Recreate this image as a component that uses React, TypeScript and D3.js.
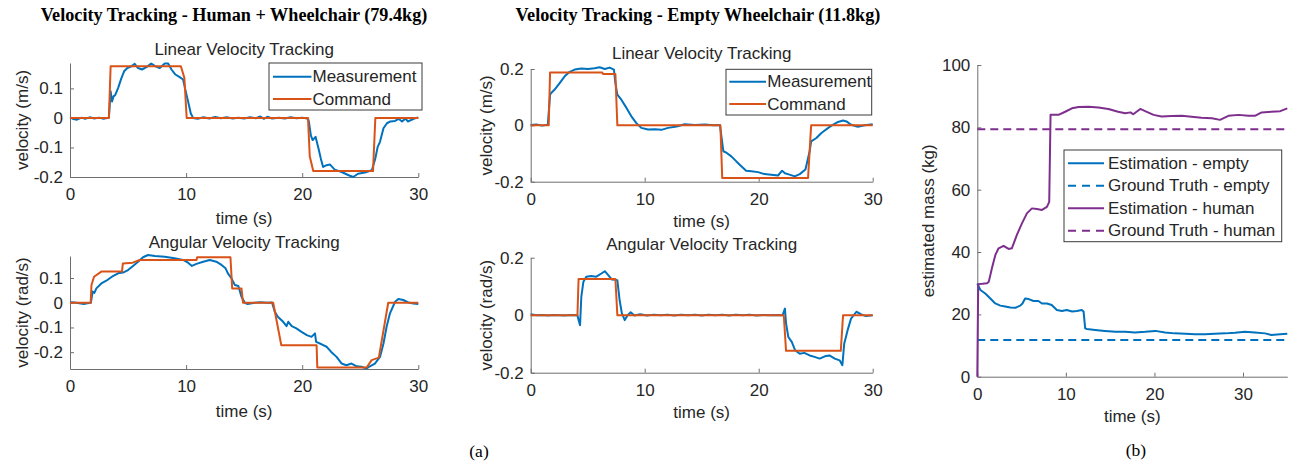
import React, { useEffect, useRef } from 'react';
import * as d3 from 'd3';

type Pt = [number, number];

// ---- data: [time (s), value] ----
const humanLinearCommand: Pt[] = [
  [0, 0], [3.35, 0], [3.5, 0.175], [9.55, 0.175], [9.85, 0.136], [10.05, 0], [20.5, 0],
  [20.65, -0.13], [20.95, -0.18], [26.1, -0.18], [26.3, 0], [30, 0],
];
const humanLinearMeasured: Pt[] = [
  [0, 0.002], [0.3, -0.004], [0.6, -0.006], [1.0, 0.001], [1.3, -0.003], [1.7, 0.002], [2.1, -0.002],
  [2.5, 0.001], [2.9, -0.003], [3.35, 0.001], [3.5, 0.09], [3.62, 0.056], [3.75, 0.073], [3.9, 0.078],
  [4.14, 0.101], [4.43, 0.135], [4.66, 0.158], [4.94, 0.169], [5.29, 0.175], [5.57, 0.183], [5.86, 0.169],
  [6.2, 0.164], [6.58, 0.172], [7.0, 0.184], [7.36, 0.175], [7.73, 0.169], [8.16, 0.184], [8.45, 0.184],
  [8.74, 0.164], [9.08, 0.147], [9.45, 0.138], [9.74, 0.13], [9.94, 0.095], [10.17, 0.056], [10.4, 0.016],
  [10.6, 0.0], [11.0, -0.003], [11.5, 0.002], [12.0, -0.002], [12.5, 0.003], [13.0, -0.001], [13.5, 0.002],
  [14.0, -0.002], [14.5, 0.001], [15.0, -0.002], [15.5, 0.002], [16.0, -0.001], [16.4, 0.005], [16.7, -0.003],
  [17.0, 0.004], [17.4, -0.002], [18.0, 0.001], [18.5, -0.002], [19.0, 0.002], [19.5, -0.001], [20.0, 0.001],
  [20.5, -0.003], [20.57, -0.012], [20.75, -0.06], [20.9, -0.075], [21.15, -0.064], [21.4, -0.103],
  [21.6, -0.137], [21.8, -0.166], [22.1, -0.16], [22.4, -0.158], [22.8, -0.175], [23.4, -0.183],
  [24.0, -0.194], [24.4, -0.2], [24.8, -0.189], [25.4, -0.185], [26.0, -0.177], [26.3, -0.137],
  [26.5, -0.098], [26.7, -0.081], [27.0, -0.035], [27.3, -0.018], [27.6, -0.012], [28.0, -0.01],
  [28.3, -0.003], [28.6, -0.012], [28.9, -0.002], [29.1, -0.012], [29.6, -0.003], [30, 0.002],
];

const humanAngularCommand: Pt[] = [
  [0, 0], [1.78, 0], [1.85, 0.072], [2.07, 0.105], [2.7, 0.126], [4.48, 0.126], [4.55, 0.159], [5.4, 0.162],
  [6.0, 0.173], [10.9, 0.173], [10.95, 0.184], [13.82, 0.184], [13.97, 0.058], [14.77, 0.058], [14.9, 0],
  [17.5, 0], [18.2, -0.172], [21.24, -0.172], [21.3, -0.262], [25.55, -0.262], [25.98, -0.232],
  [26.6, -0.222], [27.41, 0], [30, 0],
];
const humanAngularMeasured: Pt[] = [
  [0, 0.002], [0.4, 0.001], [0.8, -0.002], [1.2, -0.005], [1.5, -0.002], [1.8, 0.0], [1.95, 0.045],
  [2.1, 0.04], [2.27, 0.058], [2.7, 0.078], [3.13, 0.089], [3.7, 0.108], [4.14, 0.119], [4.57, 0.122],
  [5.0, 0.132], [5.43, 0.149], [5.86, 0.166], [6.29, 0.184], [6.72, 0.193], [7.3, 0.189], [8.16, 0.186],
  [9.0, 0.18], [9.74, 0.173], [10.17, 0.162], [10.5, 0.149], [10.89, 0.157], [11.47, 0.166], [12.04, 0.173],
  [12.6, 0.166], [13.05, 0.153], [13.4, 0.139], [13.6, 0.119], [13.9, 0.099], [14.2, 0.072], [14.5, 0.068],
  [14.77, 0.024], [15.06, 0.0], [15.3, -0.005], [15.9, 0.0], [16.4, 0.002], [17.0, 0.0], [17.4, 0.001],
  [17.64, -0.036], [17.9, -0.057], [18.36, -0.077], [18.65, -0.095], [18.8, -0.077], [19.1, -0.095],
  [19.5, -0.104], [19.94, -0.118], [20.4, -0.131], [20.8, -0.138], [21.1, -0.124], [21.2, -0.158],
  [21.67, -0.168], [22.1, -0.178], [22.5, -0.199], [22.96, -0.219], [23.4, -0.246], [23.8, -0.253],
  [24.25, -0.246], [24.7, -0.257], [25.1, -0.259], [25.55, -0.266], [25.83, -0.257], [26.26, -0.246],
  [26.7, -0.219], [27.0, -0.165], [27.27, -0.097], [27.56, -0.043], [28.0, 0.004], [28.28, 0.015],
  [28.7, 0.011], [29.14, 0.001], [29.57, -0.003], [30, -0.005],
];

const emptyLinearCommand: Pt[] = [
  [0, 0], [1.58, 0], [1.7, 0.188], [6.26, 0.188], [6.35, 0.182], [7.43, 0.182], [7.6, 0], [16.64, 0],
  [16.8, -0.187], [24.33, -0.187], [24.6, 0], [30, 0],
];
const emptyLinearMeasured: Pt[] = [
  [0, 0.001], [0.5, 0.003], [1.0, -0.001], [1.5, 0.002], [1.7, 0.109], [1.8, 0.115], [2.1, 0.127],
  [2.54, 0.15], [2.98, 0.174], [3.42, 0.19], [3.86, 0.198], [4.44, 0.202], [5.03, 0.2], [5.6, 0.203],
  [6.05, 0.206], [6.5, 0.2], [6.93, 0.205], [7.3, 0.198], [7.43, 0.15], [7.6, 0.109], [7.95, 0.091],
  [8.4, 0.062], [8.83, 0.032], [9.27, 0.008], [9.7, -0.009], [10.3, -0.015], [10.9, -0.014], [11.46, -0.016],
  [12.05, -0.009], [12.8, -0.004], [13.5, 0.004], [14.4, 0.001], [15.3, 0.003], [16.0, 0.0], [16.6, 0.001],
  [16.9, -0.092], [17.2, -0.098], [17.6, -0.11], [18.04, -0.128], [18.5, -0.146], [18.9, -0.161],
  [19.36, -0.163], [19.94, -0.166], [20.5, -0.173], [21.1, -0.175], [21.7, -0.178], [22.05, -0.161],
  [22.3, -0.17], [22.7, -0.175], [23.16, -0.181], [23.6, -0.173], [24.1, -0.157], [24.47, -0.092],
  [24.6, -0.057], [25.06, -0.045], [25.5, -0.027], [26.1, -0.009], [26.5, 0.002], [26.96, 0.012],
  [27.4, 0.017], [27.7, 0.014], [28.1, 0.002], [28.7, -0.005], [29.3, 0.0], [30, 0.004],
];

const emptyAngularCommand: Pt[] = [
  [0, 0], [4.1, 0], [4.2, 0.126], [7.43, 0.126], [7.6, 0], [22.2, 0], [22.4, -0.124], [27.2, -0.124],
  [27.4, 0], [30, 0],
];
const emptyAngularMeasured: Pt[] = [
  [0, 0.003], [0.5, 0.0], [1.0, 0.001], [1.5, -0.001], [2.0, 0.001], [2.5, 0.0], [3.0, -0.001], [3.5, 0.001],
  [4.1, 0.0], [4.2, -0.017], [4.33, -0.035], [4.44, 0.064], [4.62, 0.116], [4.88, 0.134], [5.3, 0.136],
  [5.76, 0.134], [6.2, 0.145], [6.5, 0.153], [6.78, 0.14], [7.13, 0.124], [7.6, 0.122], [7.8, 0.052],
  [8.0, 0.006], [8.25, -0.017], [8.5, 0.0], [8.77, 0.01], [9.1, -0.001], [9.6, 0.003], [10.2, -0.001],
  [10.8, 0.002], [11.4, 0.0], [12.0, 0.002], [12.6, -0.001], [13.2, 0.002], [13.8, 0.0], [14.4, 0.002],
  [15.0, -0.001], [15.6, 0.002], [16.2, 0.0], [16.8, 0.002], [17.4, -0.001], [18.0, 0.002], [18.6, 0.0],
  [19.2, 0.002], [19.8, -0.001], [20.4, 0.001], [21.0, 0.0], [21.6, 0.001], [22.1, 0.0], [22.3, 0.023],
  [22.4, -0.029], [22.6, -0.076], [22.9, -0.093], [23.2, -0.122], [23.6, -0.134], [24.0, -0.131],
  [24.47, -0.14], [24.9, -0.145], [25.35, -0.151], [25.8, -0.143], [26.2, -0.14], [26.67, -0.151],
  [27.1, -0.157], [27.34, -0.174], [27.5, -0.099], [27.8, -0.052], [28.1, -0.012], [28.57, 0.012],
  [29.0, 0.003], [29.4, -0.003], [30, 0.0],
];

const massEstimateHuman: Pt[] = [
  [0, 0], [0.1, 29.7], [0.6, 29.8], [1.1, 30], [1.3, 30.5], [1.65, 34.8], [2.03, 39], [2.4, 41.2], [2.97, 42],
  [3.53, 41], [3.9, 41.2], [4.47, 45.5], [5.04, 49.2], [5.6, 52.4], [6.17, 54], [6.73, 53.8], [7.3, 53.5],
  [7.86, 54.5], [8.12, 56.1], [8.27, 84], [8.42, 84], [9.17, 84], [9.92, 85], [10.68, 86.1], [11.43, 86.5],
  [12.56, 86.6], [13.68, 86.4], [14.8, 85.9], [15.9, 85], [16.7, 84.5], [17.3, 84.8], [17.6, 84.2],
  [18.4, 85.9], [18.95, 85.2], [19.9, 84], [20.8, 83.5], [21.95, 83.6], [23.1, 83.7], [24.2, 83.4],
  [25.3, 83.1], [26.5, 82.9], [27.4, 82.4], [28.35, 83.7], [29.5, 84], [30.6, 83.7], [31.35, 83.7],
  [32.1, 84.8], [33.2, 85], [34.2, 85.2], [35, 86.1],
];
const massEstimateEmpty: Pt[] = [
  [0, 29.9], [0.35, 27.8], [0.9, 26.7], [1.47, 25.1], [2.03, 23.5], [2.6, 22.8], [3.16, 22.5], [3.72, 22.2],
  [4.29, 22.1], [4.85, 22.8], [5.1, 23.5], [5.4, 25.1], [5.8, 24.9], [6.35, 24.3], [6.9, 24.3], [7.3, 23.5],
  [7.86, 23.5], [8.4, 23], [8.98, 21.4], [9.55, 21.1], [10.1, 21.4], [10.7, 20.9], [11.24, 21.1],
  [11.8, 21.4], [12.0, 20.9], [12.18, 15.5], [12.37, 15.3], [13.3, 15.0], [14.4, 14.7], [15.6, 14.4],
  [16.7, 14.4], [17.8, 14.2], [18.95, 14.4], [20.1, 14.7], [21.2, 14.2], [22.3, 13.9], [23.5, 13.8],
  [24.6, 13.6], [25.7, 13.6], [26.8, 13.8], [28.0, 13.9], [29.1, 14.1], [30.2, 14.4], [31.35, 14.2],
  [32.5, 13.9], [33.2, 13.4], [34.2, 13.6], [35, 13.8],
];
const groundTruthHuman: Pt[] = [[0, 79.4], [35, 79.4]];
const groundTruthEmpty: Pt[] = [[0, 11.8], [35, 11.8]];

const velTicksX = [0, 10, 20, 30];
const massTicksX = [0, 10, 20, 30];
const humanLinTicksY = [-0.2, -0.1, 0, 0.1];
const humanAngTicksY = [-0.2, -0.1, 0, 0.1];
const emptyTicksY = [-0.2, 0, 0.2];
const massTicksY = [0, 20, 40, 60, 80, 100];

const BLUE = '#0072BD';
const ORANGE = '#D95319';
const PURPLE = '#7E2F8E';
const AXIS = '#6f6f6f';
const TXT = '#262626';
const SANS = "'Liberation Sans', Arial, Helvetica, sans-serif";
const SERIF = "'Liberation Serif', 'Times New Roman', serif";

interface Series { data: Pt[]; color: string; dash?: string; label: string }
interface Legend { x: number; y: number; w: number; h: number; row0: number; rowH: number; s0: number; s1: number; tx: number }
interface Panel {
  xRange: [number, number]; xDomain: [number, number]; xTicks: number[];
  yRange: [number, number]; yDomain: [number, number]; yTicks: number[];
  title?: string; titleY?: number; ylabel: string; ylabelX: number; xlabelY: number;
  series: Series[]; legend?: Legend;
}

const measCmd = (m: Pt[], c: Pt[]): Series[] => [
  { data: m, color: BLUE, label: 'Measurement' },
  { data: c, color: ORANGE, label: 'Command' },
];

const panels: Panel[] = [
  {
    xRange: [70, 418.3], xDomain: [0, 30], xTicks: velTicksX,
    yRange: [177, 63], yDomain: [-0.2, 0.186], yTicks: humanLinTicksY,
    title: 'Linear Velocity Tracking', titleY: 49, ylabel: 'velocity (m/s)', ylabelX: 22, xlabelY: 218,
    series: measCmd(humanLinearMeasured, humanLinearCommand),
    legend: { x: 269, y: 63, w: 153, h: 47, row0: 13.7, rowH: 22.3, s0: 4, s1: 42.5, tx: 43.5 },
  },
  {
    xRange: [70, 418.3], xDomain: [0, 30], xTicks: velTicksX,
    yRange: [369, 256], yDomain: [-0.268, 0.189], yTicks: humanAngTicksY,
    title: 'Angular Velocity Tracking', titleY: 242.5, ylabel: 'velocity (rad/s)', ylabelX: 22, xlabelY: 411.5,
    series: measCmd(humanAngularMeasured, humanAngularCommand),
  },
  {
    xRange: [530.7, 872.7], xDomain: [0, 30], xTicks: velTicksX,
    yRange: [181.7, 69], yDomain: [-0.2, 0.2], yTicks: emptyTicksY,
    title: 'Linear Velocity Tracking', titleY: 53, ylabel: 'velocity (m/s)', ylabelX: 486.5, xlabelY: 221,
    series: measCmd(emptyLinearMeasured, emptyLinearCommand),
    legend: { x: 726, y: 69.3, w: 145.7, h: 45.7, row0: 12.4, rowH: 22.3, s0: 3.3, s1: 40, tx: 41.3 },
  },
  {
    xRange: [530.7, 872.7], xDomain: [0, 30], xTicks: velTicksX,
    yRange: [372.7, 257.7], yDomain: [-0.2, 0.2], yTicks: emptyTicksY,
    title: 'Angular Velocity Tracking', titleY: 244, ylabel: 'velocity (rad/s)', ylabelX: 486.5, xlabelY: 412.5,
    series: measCmd(emptyAngularMeasured, emptyAngularCommand),
  },
  {
    xRange: [977.3, 1287.3], xDomain: [0, 35], xTicks: massTicksX,
    yRange: [376.7, 65], yDomain: [0, 100], yTicks: massTicksY,
    ylabel: 'estimated mass (kg)', ylabelX: 928, xlabelY: 416.5,
    series: [
      { data: massEstimateEmpty, color: BLUE, label: 'Estimation - empty' },
      { data: groundTruthEmpty, color: BLUE, dash: '8,5', label: 'Ground Truth - empty' },
      { data: massEstimateHuman, color: PURPLE, label: 'Estimation - human' },
      { data: groundTruthHuman, color: PURPLE, dash: '8,5', label: 'Ground Truth - human' },
    ],
    legend: { x: 1064, y: 150, w: 217.7, h: 91.7, row0: 13.3, rowH: 22.5, s0: 4, s1: 40, tx: 44 },
  },
];

function drawPanel(svg: d3.Selection<SVGSVGElement, unknown, null, undefined>, p: Panel) {
  const x = d3.scaleLinear().domain(p.xDomain).range(p.xRange);
  const y = d3.scaleLinear().domain(p.yDomain).range(p.yRange);
  const g = svg.append('g');

  const styleAxis = (a: d3.Selection<SVGGElement, unknown, null, undefined>) => {
    a.attr('font-size', 17).attr('font-family', SANS);
    a.select('.domain').attr('stroke', AXIS);
    a.selectAll('.tick line').attr('stroke', AXIS);
    a.selectAll('.tick text').attr('fill', TXT);
  };

  const xa = g.append('g')
    .attr('transform', `translate(0,${p.yRange[0]})`)
    .call(d3.axisBottom(x).tickValues(p.xTicks).tickSizeInner(-4).tickSizeOuter(0).tickPadding(11)
      .tickFormat((d) => String(+d)));
  styleAxis(xa);

  const ya = g.append('g')
    .attr('transform', `translate(${p.xRange[0]},0)`)
    .call(d3.axisLeft(y).tickValues(p.yTicks).tickSizeInner(-4).tickSizeOuter(0).tickPadding(7)
      .tickFormat((d) => String(+d)));
  styleAxis(ya);

  const line = d3.line<Pt>().x((d) => x(d[0])).y((d) => y(d[1]));
  p.series.forEach((s) => {
    g.append('path')
      .datum(s.data)
      .attr('d', line)
      .attr('fill', 'none')
      .attr('stroke', s.color)
      .attr('stroke-width', 2)
      .attr('stroke-dasharray', s.dash || null)
      .attr('stroke-linejoin', 'round');
  });

  const xMid = (p.xRange[0] + p.xRange[1]) / 2;
  const yMid = (p.yRange[0] + p.yRange[1]) / 2;
  const txt = (sel: d3.Selection<SVGTextElement, unknown, null, undefined>) =>
    sel.attr('font-family', SANS).attr('font-size', 17).attr('fill', TXT)
      .attr('text-anchor', 'middle').attr('dominant-baseline', 'central');

  if (p.title) g.append('text').attr('x', xMid).attr('y', p.titleY!).call(txt).text(p.title);
  g.append('text').attr('x', xMid).attr('y', p.xlabelY).call(txt).text('time (s)');
  g.append('text')
    .attr('transform', `translate(${p.ylabelX},${yMid}) rotate(-90)`)
    .call(txt).text(p.ylabel);

  if (p.legend) {
    const L = p.legend;
    const lg = g.append('g');
    lg.append('rect')
      .attr('x', L.x).attr('y', L.y).attr('width', L.w).attr('height', L.h)
      .attr('fill', '#fff').attr('stroke', '#3a3a3a').attr('stroke-width', 1);
    p.series.forEach((s, i) => {
      const ry = L.y + L.row0 + i * L.rowH;
      lg.append('line')
        .attr('x1', L.x + L.s0).attr('x2', L.x + L.s1).attr('y1', ry).attr('y2', ry)
        .attr('stroke', s.color).attr('stroke-width', 2)
        .attr('stroke-dasharray', s.dash ? '8,6' : null);
      lg.append('text')
        .attr('x', L.x + L.tx).attr('y', ry)
        .attr('font-family', SANS).attr('font-size', 17).attr('fill', TXT)
        .attr('dominant-baseline', 'central')
        .text(s.label);
    });
  }
}

export default function App() {
  const svgRef = useRef<SVGSVGElement>(null);

  useEffect(() => {
    if (!svgRef.current) return;
    const svg = d3.select(svgRef.current);
    svg.selectAll('*').remove();

    svg.append('rect').attr('width', 1292).attr('height', 468).attr('fill', '#fff');

    panels.forEach((p) => drawPanel(svg, p));

    // figure headings
    const head = (x: number, y: number, t: string, bold: boolean) =>
      svg.append('text')
        .attr('x', x).attr('y', y)
        .attr('font-family', SERIF).attr('font-size', bold ? 18.2 : 17.5)
        .attr('font-weight', bold ? 'bold' : 'normal')
        .attr('fill', '#000').attr('text-anchor', 'middle').attr('dominant-baseline', 'central')
        .text(t);
    head(234, 15, 'Velocity Tracking - Human + Wheelchair (79.4kg)', true);
    head(698, 15, 'Velocity Tracking - Empty Wheelchair (11.8kg)', true);
    head(479, 450.5, '(a)', false);
    head(1136, 450, '(b)', false);
  }, []);

  return (
    <svg
      ref={svgRef}
      width={1292}
      height={468}
      style={{ position: 'absolute', left: 0, top: 0, display: 'block' }}
    />
  );
}
